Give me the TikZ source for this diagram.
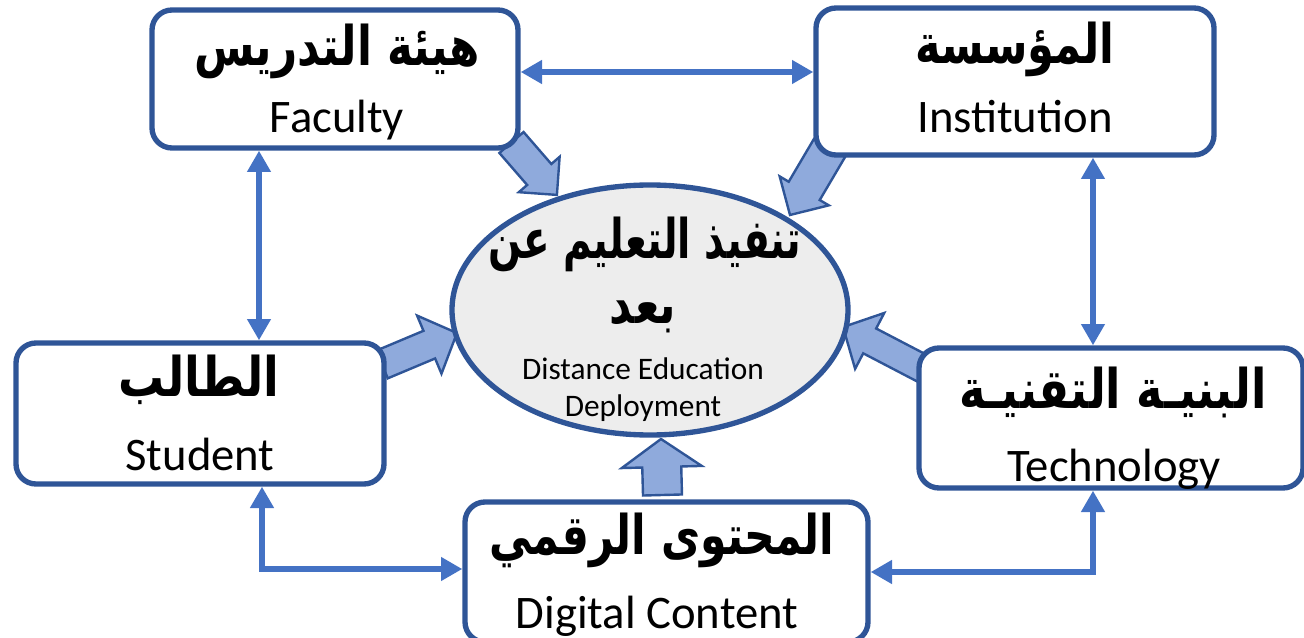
\documentclass[tikz,border=0pt]{standalone}
\usepackage{fontspec}
\usepackage{graphicx}
\setmainfont{Carlito}
\newfontfamily\arabicfont[Script=Arabic]{DejaVu Sans}
\TeXXeTstate=1
\usetikzlibrary{arrows.meta,calc,shapes.geometric}
\definecolor{boxblue}{HTML}{2F5597}
\definecolor{linkblue}{HTML}{4472C4}
\definecolor{arrfill}{HTML}{8FAADC}
\definecolor{ellfill}{HTML}{EDEDED}
% block arrow: #1 tail coordinate, #2 tip coordinate, #3 shaft half width, #4 head half width, #5 head length (px)
\newcommand\blockarrow[5]{%
  \path let \p1=($(#2)-(#1)$) in \pgfextra{%
    \pgfmathsetmacro\baang{atan2(\y1,\x1)}%
    \pgfmathsetmacro\balen{veclen(\x1,\y1)}%
    \global\let\baang\baang\global\let\balen\balen};
  \pgfmathsetmacro\bas{#3*0.75}%
  \pgfmathsetmacro\bah{#4*0.75}%
  \pgfmathsetmacro\bab{\balen-#5*0.75}%
  \begin{scope}[shift={(#1)},rotate=\baang]
    \draw[barr] (0pt,-\bas pt) -- (\bab pt,-\bas pt) -- (\bab pt,-\bah pt) -- (\balen pt,0pt)
      -- (\bab pt,\bah pt) -- (\bab pt,\bas pt) -- (0pt,\bas pt) -- cycle;
  \end{scope}}
\begin{document}
\begin{tikzpicture}[x=0.75pt,y=-0.75pt,
  box/.style={draw=boxblue,line width=4pt,rounded corners=15pt,fill=white,inner sep=0pt},
  link/.style={draw=linkblue,line width=4.4pt,{Triangle[length=16pt,width=17pt]}-{Triangle[length=16pt,width=17pt]}},
  barr/.style={draw=boxblue,line width=1.8pt,fill=arrfill,line join=miter},
  artext/.style={font=\arabicfont\bfseries\fontsize{41}{48}\selectfont,inner sep=0pt,anchor=base},
  entext/.style={font=\fontsize{35}{42}\selectfont,inner sep=0pt,anchor=base},
  smtext/.style={font=\fontsize{23.5}{28}\selectfont,inner sep=0pt,anchor=base}]
\useasboundingbox (0,0) rectangle (1304,638);
% tails and tips of block arrows
\coordinate (t1) at (511.5,142.5); \coordinate (p1) at (557,195);
\coordinate (t2) at (829.5,148);   \coordinate (p2) at (790,215);
\coordinate (t3) at (382,364.5);   \coordinate (p3) at (457,333);
\coordinate (t4) at (924.5,369.5); \coordinate (p4) at (843,327);
\coordinate (t5) at (662.5,495);   \coordinate (p5) at (661,439);
\blockarrow{t1}{p1}{16}{27}{27}
\blockarrow{t2}{p2}{18}{28.5}{28}
\blockarrow{t3}{p3}{15}{31.5}{30}
\blockarrow{t4}{p4}{14}{31.5}{30}
\blockarrow{t5}{p5}{19.5}{40}{28}
% boxes
\node[box,minimum width=366*0.75pt,minimum height=138*0.75pt] (fac) at (335,79) {};
\node[box,minimum width=398*0.75pt,minimum height=147*0.75pt] (inst) at (1015,81.5) {};
\node[box,minimum width=368*0.75pt,minimum height=141*0.75pt] (stu) at (200,413.5) {};
\node[box,minimum width=384*0.75pt,minimum height=140*0.75pt] (tech) at (1111,418) {};
\node[box,minimum width=403*0.75pt,minimum height=140*0.75pt] (dig) at (666.5,572) {};
\node[ellipse,draw=boxblue,line width=4pt,fill=ellfill,minimum width=396*0.75pt,minimum height=250*0.75pt] (ell) at (650,310) {};
% texts
\node[artext] (facA) at (337,66) {\scalebox{0.8}[1]{\beginR هيئة التدريس\endR}};
\node[entext] (facE) at (337,133) {Faculty};
\node[artext] (instA) at (1015,64) {\scalebox{0.79}[1]{\beginR المؤسسة\endR}};
\node[entext] (instE) at (1015,133) {Institution};
\node[artext] (stuA) at (199,396) {\scalebox{0.84}[1]{\beginR الطالب\endR}};
\node[entext] (stuE) at (200,470) {Student};
\node[artext] (techA) at (1113,408) {\scalebox{0.82}[1]{\beginR البنيـة التقنيـة\endR}};
\node[entext] (techE) at (1114,481) {Technology};
\node[artext] (digA) at (662,554) {\scalebox{0.78}[1]{\beginR المحتوى الرقمي\endR}};
\node[entext] (digE) at (657,628) {Digital Content};
\node[artext] (ellA1) at (645,258) {\scalebox{0.71}[1]{\beginR تنفيذ التعليم عن\endR}};
\node[artext] (ellA2) at (643,323) {\scalebox{0.8}[1]{\beginR بعد\endR}};
\node[smtext] (ellE1) at (643,379) {Distance Education};
\node[smtext] (ellE2) at (643,416) {Deployment};
% connectors
\coordinate (hy) at (0,72);
\coordinate (vx1) at (259,0);
\coordinate (vx2) at (1093,0);
\coordinate (vx3) at (262,0);
\coordinate (hy1) at (0,569);
\coordinate (hy2) at (0,572);
\draw[link] (fac.east |- hy) -- (inst.west |- hy);
\draw[link] (fac.south -| vx1) -- (stu.north -| vx1);
\draw[link] (inst.south -| vx2) -- (tech.north -| vx2);
\draw[link] (stu.south -| vx3) |- (dig.west |- hy1);
\draw[link] (tech.south -| vx2) |- (dig.east |- hy2);
\end{tikzpicture}
\end{document}
